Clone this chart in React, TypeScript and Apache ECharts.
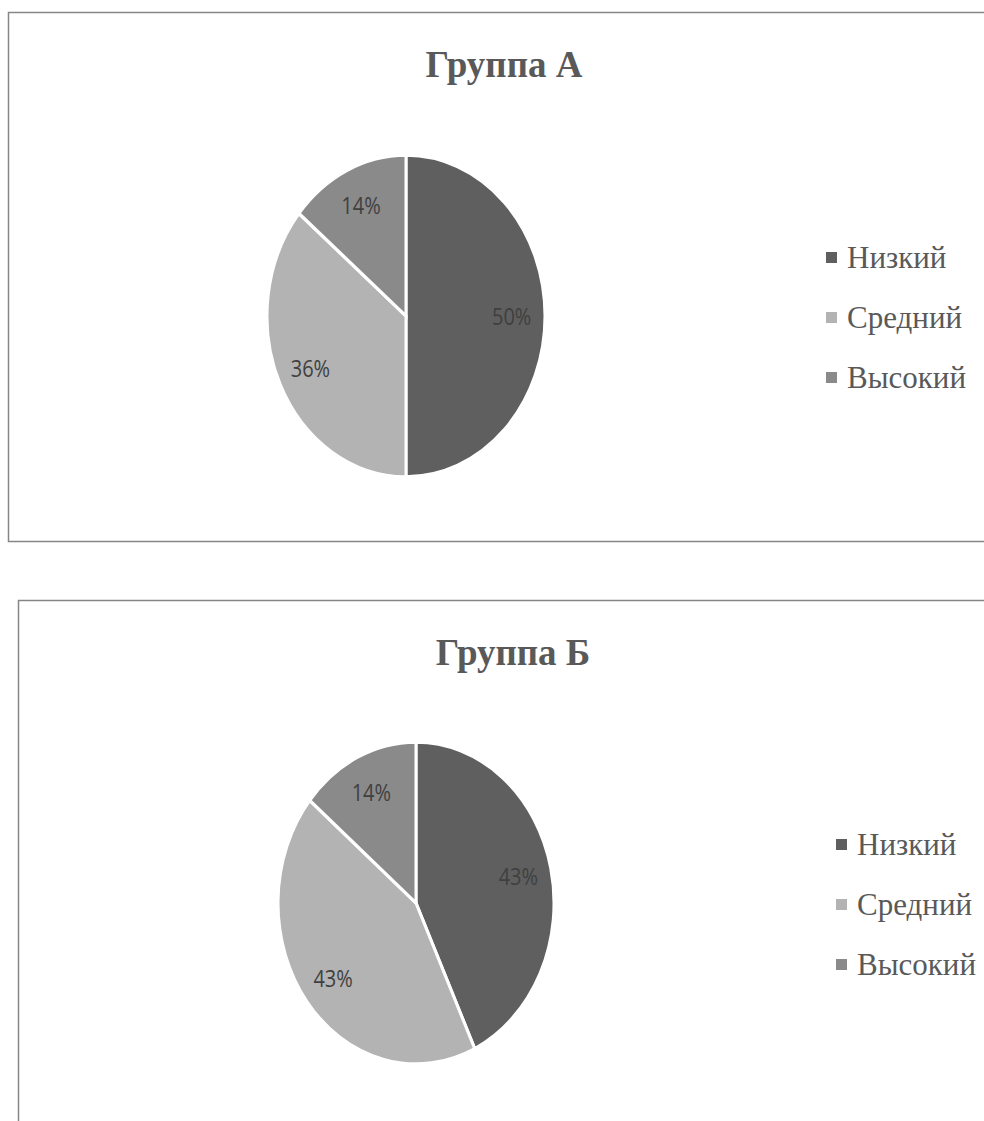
import React, { useEffect, useRef } from "react";
import * as echarts from "echarts";

const categories = ["Низкий", "Средний", "Высокий"];
const groupTitles = ["Группа А", "Группа Б"];
const groupAValues = [50, 36, 14];
const groupBValues = [43, 43, 14];
const sliceColors = ["#5f5f5f", "#b3b3b3", "#8a8a8a"];

const pies = [
  { values: groupAValues, cx: 406, cy: 316, rx: 139, ry: 161, titleX: 499, titleTop: 41, legendTop: 237 },
  { values: groupBValues, cx: 416, cy: 903, rx: 138, ry: 161, titleX: 508, titleTop: 629, legendTop: 824 },
];
const legendLefts = [821, 831];

export default function App() {
  const ref = useRef<HTMLDivElement>(null);
  useEffect(() => {
    if (!ref.current) return;
    const chart = echarts.init(ref.current, undefined, { renderer: "svg" });
    const series: any[] = [];
    pies.forEach((p) => {
      const total = p.values.reduce((a, b) => a + b, 0);
      categories.forEach((name, k) => {
        const before = p.values.slice(0, k).reduce((a, b) => a + b, 0);
        series.push({
          type: "custom",
          name,
          coordinateSystem: "none",
          itemStyle: { color: sliceColors[k] },
          data: [[p.values[k]]],
          renderItem: (params: any, api: any) => {
            const v = api.value(0);
            const start = -Math.PI / 2 + (before / total) * Math.PI * 2;
            const end = -Math.PI / 2 + ((before + v) / total) * Math.PI * 2;
            const mid = (start + end) / 2;
            const lr = p.rx * 0.76;
            return {
              type: "group",
              x: p.cx,
              y: p.cy,
              scaleY: p.ry / p.rx,
              children: [
                {
                  type: "sector",
                  shape: { cx: 0, cy: 0, r0: 0, r: p.rx, startAngle: start, endAngle: end, clockwise: true },
                  style: { fill: sliceColors[k], stroke: "#ffffff", lineWidth: 3 },
                },
                {
                  type: "text",
                  x: Math.cos(mid) * lr,
                  y: Math.sin(mid) * lr,
                  style: {
                    text: Math.round((v / total) * 100) + "%",
                    fill: "#404040",
                    fontSize: 20,
                    fontFamily: "Open Sans",
                    align: "center",
                    verticalAlign: "middle",
                  },
                },
              ],
            };
          },
        });
      });
    });

    chart.setOption({
      animation: false,
      backgroundColor: "#ffffff",
      title: pies.map((p, i) => ({
        text: groupTitles[i],
        left: p.titleX,
        top: p.titleTop,
        textAlign: "center",
        textStyle: { fontFamily: "Liberation Serif", fontWeight: "bold", fontSize: 37, color: "#595959" },
      })),
      legend: pies.map((p, i) => ({
        orient: "vertical",
        left: legendLefts[i],
        top: p.legendTop,
        data: categories,
        icon: "rect",
        itemWidth: 11,
        itemHeight: 11,
        itemGap: 29,
        selectedMode: false,
        textStyle: {
          fontFamily: "Liberation Serif",
          fontSize: 31,
          lineHeight: 31,
          color: "#595959",
          padding: [0, 0, 0, 5],
        },
      })),
      graphic: [
        { type: "rect", shape: { x: 8.5, y: 12.5, width: 1000, height: 529 }, style: { fill: "none", stroke: "#868686", lineWidth: 1.5 }, silent: true },
        { type: "rect", shape: { x: 18.5, y: 600.5, width: 1000, height: 600 }, style: { fill: "none", stroke: "#868686", lineWidth: 1.5 }, silent: true },
      ],
      series,
    });
    return () => chart.dispose();
  }, []);
  return <div ref={ref} style={{ position: "absolute", left: 0, top: 0, width: 984, height: 1121 }} />;
}
